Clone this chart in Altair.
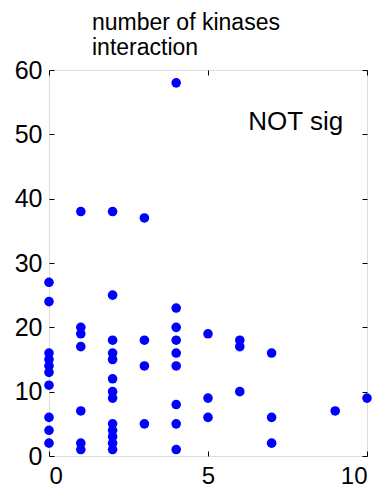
import altair as alt
import pandas as pd

# data
x_vals = ([0]*10 + [1]*7 + [2]*13 + [3]*4 + [4]*9 + [5]*3 + [6]*3 + [7]*3 + [9] + [10])
y_vals = ([27, 24, 16, 15, 14, 13, 11, 6, 4, 2] +
          [38, 20, 19, 17, 7, 2, 1] +
          [38, 25, 18, 16, 15, 12, 10, 9, 5, 4, 3, 2, 1] +
          [37, 18, 14, 5] +
          [58, 23, 20, 18, 16, 14, 8, 5, 1] +
          [19, 9, 6] +
          [18, 17, 10] +
          [16, 6, 2] +
          [7] +
          [9])
x_ticks = [0, 5, 10]
y_ticks = [0, 10, 20, 30, 40, 50, 60]
title_lines = ["number of kinases", "interaction"]
note_text = ["NOT sig"]
note_x = [9.25]
note_y = [50.7]

df = pd.DataFrame({"x": x_vals, "y": y_vals})
note_df = pd.DataFrame({"t": note_text, "x": note_x, "y": note_y})

W, H = 318, 386
FONT = "Liberation Sans"
xs = alt.Scale(domain=[0, 10], nice=False, zero=False)
ys = alt.Scale(domain=[0, 60], nice=False, zero=False)

# main layer with labels
points = alt.Chart(df).mark_circle(size=92, color="#0000ff", opacity=1).encode(
    x=alt.X("x:Q", scale=xs, axis=alt.Axis(orient="bottom", values=x_ticks, ticks=False, tickSize=0,
                                            domain=False, grid=False, title=None, labelFont=FONT,
                                            labelFontSize=24, labelPadding=8, labelColor="black")),
    y=alt.Y("y:Q", scale=ys, axis=alt.Axis(orient="left", values=y_ticks, ticks=False, tickSize=0,
                                            domain=False, grid=False, title=None, labelFont=FONT,
                                            labelFontSize=25, labelPadding=7, labelColor="black",
                                            labelBaseline="middle")),
)

# inward ticks at bottom and left edges
ticks_a = alt.Chart(df).mark_point(opacity=0).encode(
    x=alt.X("x:Q", scale=xs, axis=alt.Axis(orient="top", offset=-H, values=x_ticks, labels=False,
                                            domain=False, grid=False, title=None, tickSize=5,
                                            tickColor="black")),
    y=alt.Y("y:Q", scale=ys, axis=alt.Axis(orient="right", offset=-W, values=y_ticks, labels=False,
                                            domain=False, grid=False, title=None, tickSize=5,
                                            tickColor="black")),
)

# inward ticks at top and right edges
ticks_b = alt.Chart(df).mark_point(opacity=0).encode(
    x=alt.X("x:Q", scale=xs, axis=alt.Axis(orient="bottom", offset=-H, values=x_ticks, labels=False,
                                            domain=False, grid=False, title=None, tickSize=5,
                                            tickColor="black")),
    y=alt.Y("y:Q", scale=ys, axis=alt.Axis(orient="left", offset=-W, values=y_ticks, labels=False,
                                            domain=False, grid=False, title=None, tickSize=5,
                                            tickColor="black")),
)

note = alt.Chart(note_df).mark_text(font=FONT, fontSize=26, align="right", baseline="alphabetic",
                                    color="black").encode(
    x=alt.X("x:Q", scale=xs, axis=None),
    y=alt.Y("y:Q", scale=ys, axis=None),
    text="t:N",
)

chart = alt.layer(points, ticks_a, ticks_b, note).resolve_axis(
    x="independent", y="independent"
).properties(
    width=W, height=H,
    title=alt.Title(title_lines, anchor="start", frame="group", dx=43, dy=15, offset=13, font=FONT,
                    fontSize=23, fontWeight="normal", lineHeight=25, color="black"),
    autosize=alt.AutoSizeParams(type="none"),
    padding={"left": 49, "top": 70, "right": 18, "bottom": 32},
).configure_view(stroke="black", strokeWidth=1.2).configure(background="white")

chart.save("out.html", embed_options={"renderer": "svg", "actions": False})
